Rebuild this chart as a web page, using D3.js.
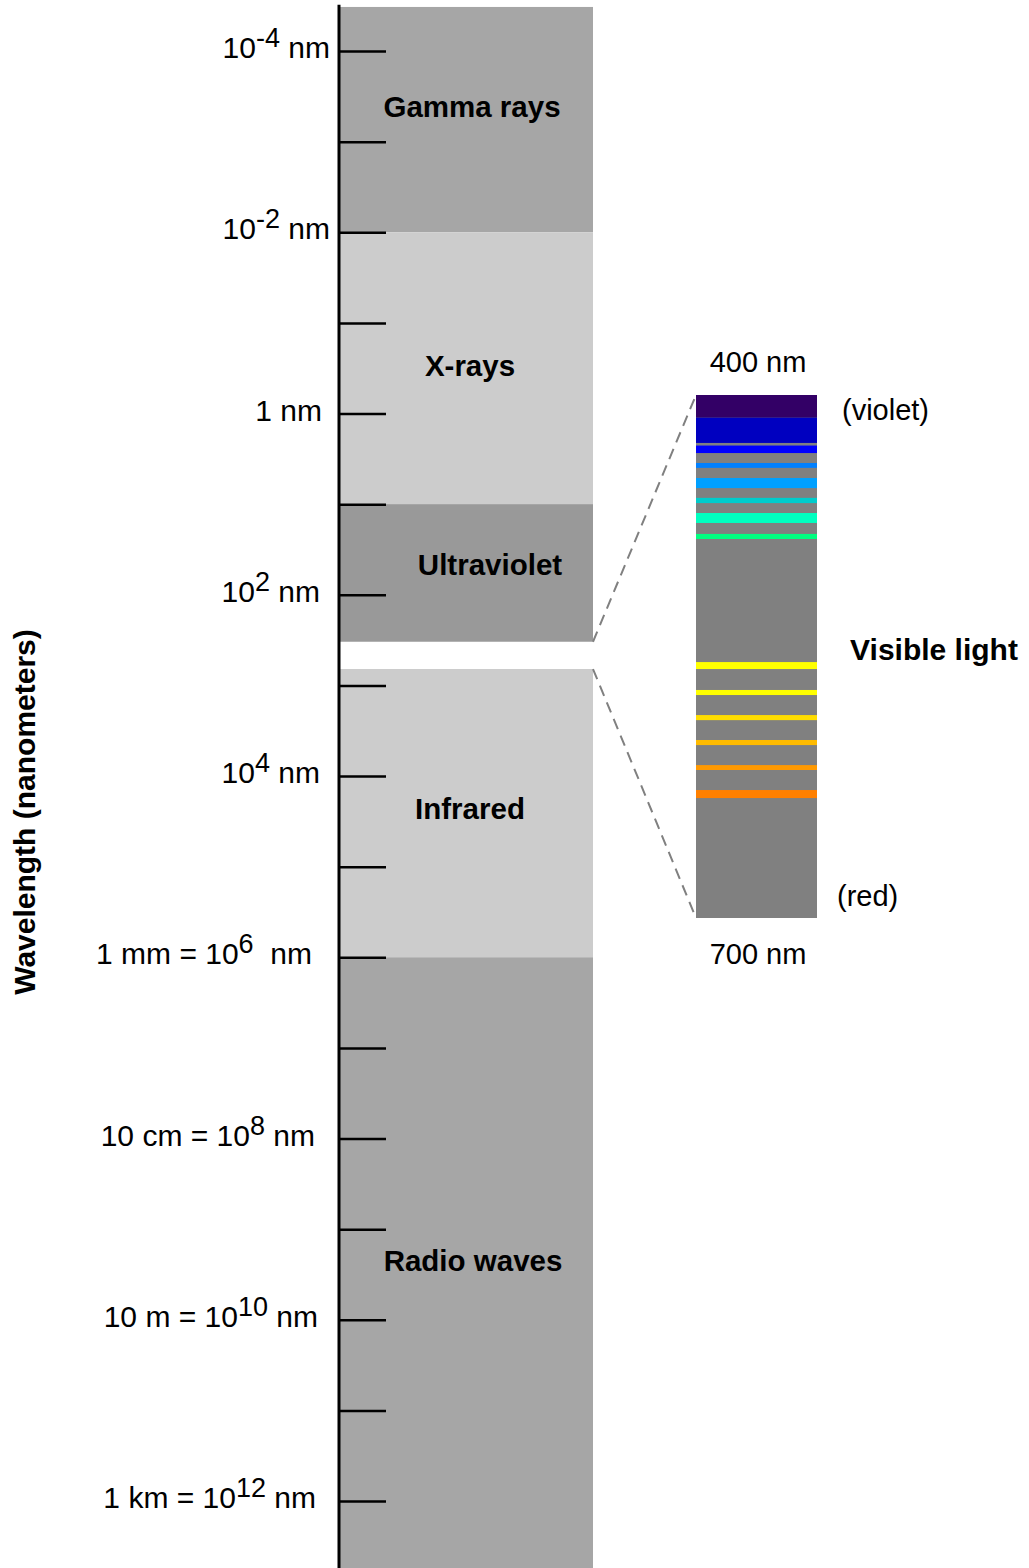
<!DOCTYPE html>
<html>
<head>
<meta charset="utf-8">
<script src="https://cdn.jsdelivr.net/npm/d3@7"></script>
<style>
  html, body { margin: 0; padding: 0; background: #fff; }
  svg { display: block; font-family: "Liberation Sans", Arial, Helvetica, sans-serif; }
  text { white-space: pre; }
</style>
</head>
<body>
<svg id="chart" width="1029" height="1568"></svg>
<script>
// ---------- data ----------
const bandNames  = ["Gamma rays", "X-rays", "Ultraviolet", "Infrared", "Radio waves"];
const bandLow    = [Math.pow(10, -4.486), 1e-2, 1e1, 660, 1e6];      // nm (top edge)
const bandHigh   = [1e-2, 1e1, 330, 1e6, Math.pow(10, 12.8)];        // nm (bottom edge)
const bandColors = ["#a6a6a6", "#cccccc", "#999999", "#cccccc", "#a6a6a6"];
const bandLabelAt = [Math.pow(10, -3.38), Math.pow(10, -0.52), Math.pow(10, 1.67), Math.pow(10, 4.36), Math.pow(10, 9.35)];

const tickValues = d3.range(-4, 13).map(e => Math.pow(10, e));
const labelValues = [1e-4, 1e-2, 1, 1e2, 1e4, 1e6, 1e8, 1e10, 1e12];
const labelPrefix = ["10", "10", "1 nm", "10", "10", "1 mm = 10", "10 cm = 10", "10 m = 10", "1 km = 10"];
const labelSup    = ["-4", "-2", "", "2", "4", "6", "8", "10", "12"];
const labelSuffix = [" nm", " nm", "", " nm", " nm", "  nm", " nm", " nm", " nm"];

const axisExtent = [Math.pow(10, -4.51), Math.pow(10, 12.8)];
const visibleRange = [400, 700];   // nm
const stripeStart = [400, 413, 429, 439, 447.6, 459, 467.7, 479.7, 553.2, 569.2, 583.6, 597.9, 612.3, 626.6];
const stripeEnd   = [413, 427.5, 433.3, 441.8, 453.4, 462, 473.4, 482.6, 557.2, 572.1, 586.5, 600.8, 615.1, 631.2];
const stripeColors = ["#330066", "#0000c0", "#0000ff", "#0080ff", "#00a0ff", "#00cccc", "#00ffc0", "#00ff80",
                      "#ffff00", "#ffff00", "#ffdd00", "#ffbb00", "#ff9900", "#ff8000"];

// ---------- layout (not data) ----------
const labelRight = [330, 330, 322, 320, 320, 312, 315, 318, 316];
const bandLabelX = [472, 470, 490, 470, 473];

// ---------- scales ----------
const svg = d3.select("#chart");
const y = d3.scaleLog().domain([1e-4, 1e12]).range([51, 1501]);
const colX0 = 340, colX1 = 593;
const vy = d3.scaleLinear().domain(visibleRange).range([395, 918]);
const visX0 = 696, visX1 = 817;

// ---------- bands ----------
svg.append("g").selectAll("rect").data(bandNames).join("rect")
  .attr("x", colX0)
  .attr("width", colX1 - colX0)
  .attr("y", (d, i) => y(bandLow[i]))
  .attr("height", (d, i) => y(bandHigh[i]) - y(bandLow[i]))
  .attr("fill", (d, i) => bandColors[i]);

svg.append("g").selectAll("text").data(bandNames).join("text")
  .attr("x", (d, i) => bandLabelX[i])
  .attr("y", (d, i) => y(bandLabelAt[i]) + 10)
  .attr("text-anchor", "middle")
  .attr("font-weight", "bold")
  .attr("font-size", 29.5)
  .attr("fill", "#000")
  .text(d => d);

// ---------- axis ----------
const axis = d3.axisRight(y).tickValues(tickValues).tickSize(47).tickSizeOuter(0).tickFormat("");
const ag = svg.append("g").attr("transform", `translate(${colX0 - 1},0)`).call(axis);
ag.select(".domain").remove();
ag.selectAll(".tick line").attr("stroke", "#000").attr("stroke-width", 2.5);

svg.append("line")
  .attr("x1", colX0 - 1).attr("x2", colX0 - 1)
  .attr("y1", y(axisExtent[0])).attr("y2", y(axisExtent[1]))
  .attr("stroke", "#000").attr("stroke-width", 3);

// tick labels
const lg = svg.append("g");
labelValues.forEach((v, i) => {
  const t = lg.append("text")
    .attr("x", labelRight[i])
    .attr("y", y(v) + 7)
    .attr("text-anchor", "end")
    .attr("font-size", 30)
    .attr("fill", "#000");
  t.append("tspan").text(labelPrefix[i]);
  if (labelSup[i]) {
    t.append("tspan").attr("font-size", 27).attr("dy", -11).text(labelSup[i]);
    t.append("tspan").attr("dy", 11).text(labelSuffix[i]);
  } else if (labelSuffix[i]) {
    t.append("tspan").text(labelSuffix[i]);
  }
});

// axis title
svg.append("text")
  .attr("transform", `translate(35, ${812}) rotate(-90)`)
  .attr("text-anchor", "middle")
  .attr("font-weight", "bold")
  .attr("font-size", 30)
  .text("Wavelength (nanometers)");

// ---------- visible light detail ----------
svg.append("rect")
  .attr("x", visX0).attr("y", vy(visibleRange[0]))
  .attr("width", visX1 - visX0).attr("height", vy(visibleRange[1]) - vy(visibleRange[0]))
  .attr("fill", "#808080");

svg.append("g").selectAll("rect").data(stripeColors).join("rect")
  .attr("x", visX0).attr("width", visX1 - visX0)
  .attr("y", (d, i) => vy(stripeStart[i]))
  .attr("height", (d, i) => vy(stripeEnd[i]) - vy(stripeStart[i]))
  .attr("fill", d => d);

// dashed connector lines
const conn = [
  [colX1, y(bandHigh[2]), visX0, vy(visibleRange[0])],
  [colX1, y(bandLow[3]), visX0, vy(visibleRange[1])]
];
svg.append("g").selectAll("line").data(conn).join("line")
  .attr("x1", d => d[0]).attr("y1", d => d[1])
  .attr("x2", d => d[2]).attr("y2", d => d[3])
  .attr("stroke", "#808080").attr("stroke-width", 2)
  .attr("stroke-dasharray", "11,7");

// visible labels
svg.append("text").attr("x", 758).attr("y", vy(visibleRange[0]) - 23)
  .attr("text-anchor", "middle").attr("font-size", 29).text(visibleRange[0] + " nm");
svg.append("text").attr("x", 758).attr("y", vy(visibleRange[1]) + 46)
  .attr("text-anchor", "middle").attr("font-size", 29).text(visibleRange[1] + " nm");
svg.append("text").attr("x", 842).attr("y", vy(visibleRange[0]) + 25)
  .attr("font-size", 29).text("(violet)");
svg.append("text").attr("x", 837).attr("y", vy(visibleRange[1]) - 12)
  .attr("font-size", 29).text("(red)");
svg.append("text").attr("x", 934).attr("y", 660)
  .attr("text-anchor", "middle").attr("font-weight", "bold").attr("font-size", 30).text("Visible light");
</script>
</body>
</html>
